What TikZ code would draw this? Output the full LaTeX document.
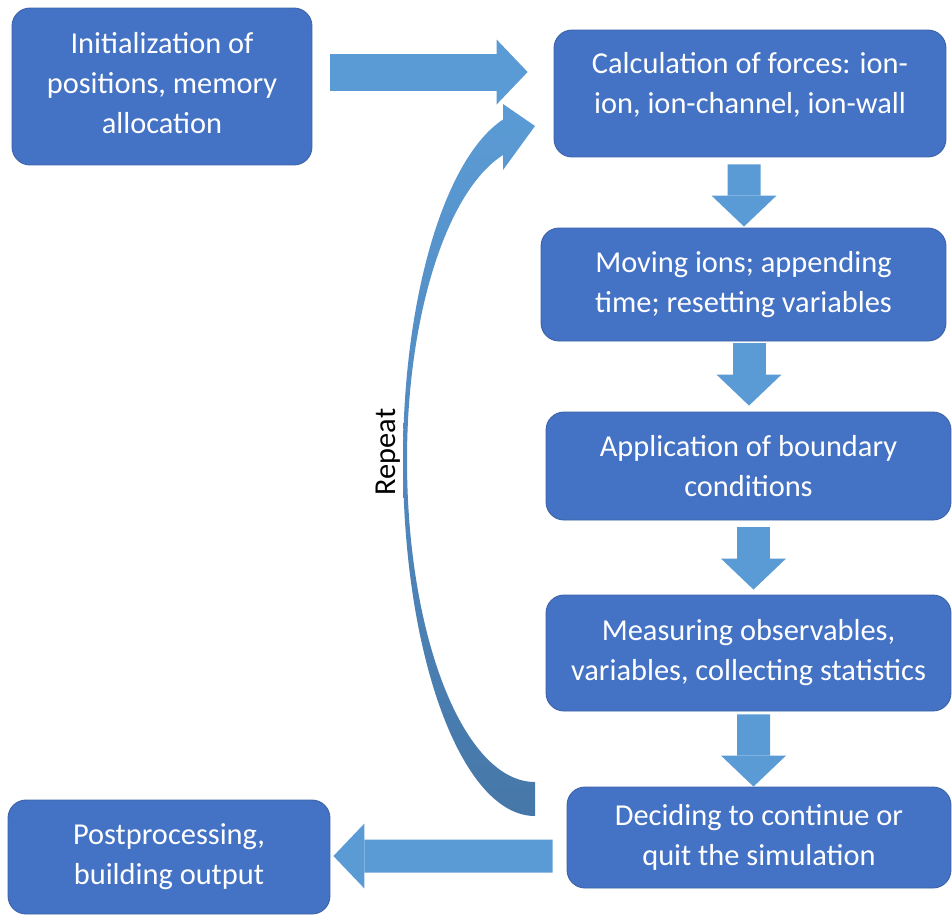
\documentclass[tikz,border=0pt]{standalone}
\usepackage{fontspec}
\setmainfont{Carlito}
\usepackage{tikz}
\usepackage{xcolor}
\usetikzlibrary{arrows.meta}
\definecolor{boxblue}{HTML}{4472C4}
\definecolor{arrowblue}{HTML}{5B9BD5}
\definecolor{repeatdark}{HTML}{4677A8}

\begin{document}
\begin{tikzpicture}[x=0.02cm,y=-0.02cm,
        procbox/.style={draw=boxblue!85!black, line width=0.5pt, fill=boxblue, rounded corners=0.36cm,
            text=white, align=center, inner sep=0pt, font=\fontsize{17.3}{22.8}\selectfont},
        blockarrow/.style={draw=arrowblue, line width=0.66cm,
            -{Triangle[length=0.62cm,width=1.3cm,line width=0pt]}}]
        %\draw[gray] (0,0) grid (952,917);
        \useasboundingbox (0,0) rectangle (952,917);

        \node[procbox, minimum width=6cm, minimum height=3.14cm, text depth=0.14cm] (init) at (162,86.5) {Initialization of\\positions, memory\\allocation};
        \node[procbox, minimum width=7.84cm, minimum height=2.54cm, text depth=0.42cm] (calc) at (750,93.5) {Calculation of forces: ion-\\ion, ion-channel, ion-wall};
        \node[procbox, minimum width=8.1cm, minimum height=2.26cm] (moving) at (743.5,284.5) {Moving ions; appending\\time; resetting variables};
        \node[procbox, minimum width=8.1cm, minimum height=2.16cm] (bound) at (748.5,466) {Application of boundary\\conditions};
        \node[procbox, minimum width=8.1cm, minimum height=2.32cm] (measure) at (748.5,653) {Measuring observables,\\variables, collecting statistics};
        \node[procbox, minimum width=7.68cm, minimum height=2.02cm] (decide) at (759,837.5) {Deciding to continue or\\quit the simulation};
        \node[procbox, minimum width=6.44cm, minimum height=2.28cm] (post) at (169,857) {Postprocessing,\\building output};

        \draw[blockarrow, line width=0.74cm] ([shift={(18,-14.5)}]init.east) -- ([shift={(-26,-21.5)}]calc.west);
        \draw[blockarrow] ([shift={(-6,7)}]calc.south) -- ([shift={(0.5,-1)}]moving.north);
        \draw[blockarrow] ([shift={(5.5,2)}]moving.south) -- ([shift={(0.5,-6)}]bound.north);
        \draw[blockarrow] ([shift={(5,7)}]bound.south) -- ([shift={(5,-5)}]measure.north);
        \draw[blockarrow] ([shift={(5,3)}]measure.south) -- ([shift={(-5.5,0)}]decide.north);
        \draw[blockarrow] ([shift={(-14,18.5)}]decide.west) -- ([shift={(3,-1)}]post.east);

        % repeat loop
        \shade[top color=arrowblue, bottom color=repeatdark]
            (535,816) .. controls (462,816) and (403,656.6) .. (403,460)
            .. controls (403,299) and (444,158.5) .. (503,119.5)
            -- (503,104) -- (535,126) -- (503,170) -- (503,155)
            .. controls (446.5,191) and (407,316.4) .. (407,460)
            .. controls (407,637.8) and (464.3,782) .. (535,782) -- cycle;
        \node[rotate=90, font=\fontsize{17.3}{22.8}\selectfont] (repeat) at (388,452) {Repeat};
    \end{tikzpicture}
\end{document}
